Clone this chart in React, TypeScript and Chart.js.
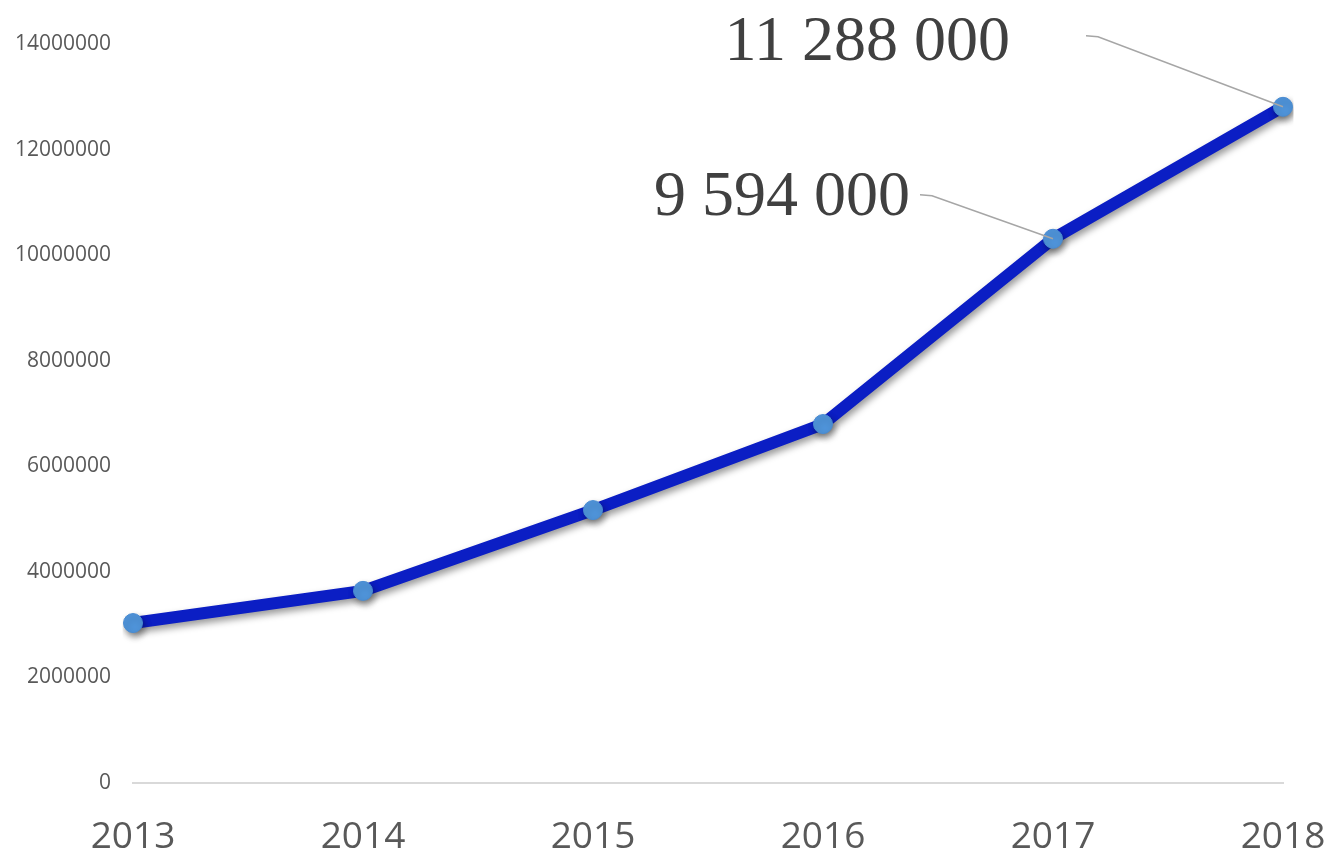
import React, { useEffect, useRef } from "react";
import { Chart, registerables } from "chart.js";

Chart.register(...registerables);

const years = ["2013", "2014", "2015", "2016", "2017", "2018"];
const values = [3030000, 3640000, 5170000, 6800000, 10310000, 12810000];
const yTicks = [0, 2000000, 4000000, 6000000, 8000000, 10000000, 12000000, 14000000];
const calloutIndex = [4, 5];
const calloutText = ["9 594 000", "11 288 000"];

const calloutOffsets = [
  { ex: -121, ey: -43, tx: -143, ty: -41 },
  { ex: -185, ey: -70, tx: -273, ty: -64 },
];

const shadowPlugin = {
  id: "lineShadow",
  beforeDatasetDraw(chart: any) {
    const ctx = chart.ctx;
    ctx.save();
    ctx.shadowColor = "rgba(0,0,0,0.4)";
    ctx.shadowBlur = 7;
    ctx.shadowOffsetX = 2;
    ctx.shadowOffsetY = 4;
  },
  afterDatasetDraw(chart: any) {
    chart.ctx.restore();
  },
};

const calloutPlugin = {
  id: "callouts",
  afterDatasetsDraw(chart: any) {
    const ctx = chart.ctx;
    const meta = chart.getDatasetMeta(0);
    calloutIndex.forEach((idx, i) => {
      const pt = meta.data[idx];
      const o = calloutOffsets[i];
      const ex = pt.x + o.ex;
      const ey = pt.y + o.ey;
      ctx.save();
      ctx.strokeStyle = "#a6a6a6";
      ctx.lineWidth = 1.5;
      ctx.beginPath();
      ctx.moveTo(pt.x, pt.y);
      ctx.lineTo(ex, ey);
      ctx.lineTo(ex - 12, ey - 1);
      ctx.stroke();
      ctx.fillStyle = "#404040";
      ctx.font = '64px "Liberation Serif", "Times New Roman", serif';
      ctx.textAlign = "right";
      ctx.textBaseline = "middle";
      ctx.fillText(calloutText[i], pt.x + o.tx, pt.y + o.ty);
      ctx.restore();
    });
  },
};

export default function App() {
  const ref = useRef<HTMLCanvasElement>(null);
  useEffect(() => {
    document.body.style.margin = "0";
    const chart = new Chart(ref.current!, {
      type: "line",
      data: {
        labels: years,
        datasets: [
          {
            data: values,
            borderColor: "#0b1ec4",
            borderWidth: 12,
            pointRadius: 9.5,
            pointBackgroundColor: "#4f94da",
            pointBorderColor: "#4a8cd2",
            pointBorderWidth: 1,
            tension: 0,
            borderCapStyle: "round",
            borderJoinStyle: "round",
          },
        ],
      },
      options: {
        responsive: false,
        animation: false,
        layout: { padding: { top: 44, right: 49, left: 0, bottom: 0 } },
        plugins: { legend: { display: false }, tooltip: { enabled: false } },
        scales: {
          x: {
            offset: false,
            grid: { display: false, drawTicks: false },
            border: { display: true, color: "#d9d9d9", width: 2 },
            ticks: {
              color: "#595959",
              font: { family: "Open Sans", size: 37 },
              padding: 32,
              maxRotation: 0,
            },
            afterFit(scale: any) {
              scale.height = 72;
              scale.paddingLeft = 0;
              scale.paddingRight = 0;
            },
          },
          y: {
            min: 0,
            max: 14000000,
            afterBuildTicks(scale: any) {
              scale.ticks = yTicks.map((v) => ({ value: v }));
            },
            grid: { display: false, drawTicks: false },
            border: { display: false },
            ticks: {
              color: "#595959",
              font: { family: "Open Sans", size: 21 },
              padding: 22,
              callback: (v: any) => String(v),
            },
            afterFit(scale: any) {
              scale.width = 133;
              scale.paddingTop = 0;
              scale.paddingBottom = 0;
            },
          },
        },
      },
      plugins: [shadowPlugin, calloutPlugin],
    } as any);
    return () => chart.destroy();
  }, []);
  return (
    <div style={{ position: "fixed", left: 0, top: 0, width: 1332, height: 855 }}>
      <canvas ref={ref} width={1332} height={855} style={{ width: 1332, height: 855 }} />
    </div>
  );
}
